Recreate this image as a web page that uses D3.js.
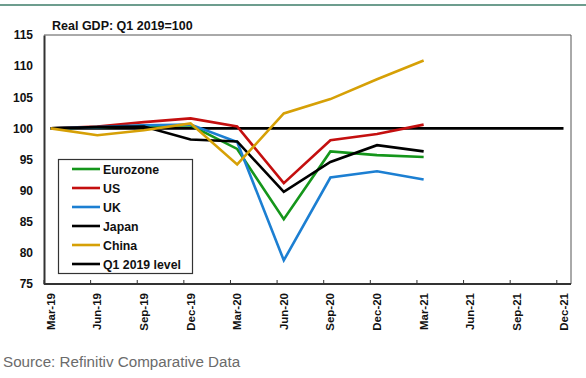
<!DOCTYPE html>
<html><head><meta charset="utf-8">
<script src="https://cdn.jsdelivr.net/npm/d3@7"></script>
<style>body{margin:0;background:#fff;}svg{display:block;font-family:Arial,"Liberation Sans",sans-serif;}</style>
</head><body><svg id="c" width="586" height="378"></svg>
<script>
const categories = ["Mar-19","Jun-19","Sep-19","Dec-19","Mar-20","Jun-20","Sep-20","Dec-20","Mar-21","Jun-21","Sep-21","Dec-21"];
const eurozone = [100, 100.2, 100.4, 100.5, 96.7, 85.4, 96.3, 95.7, 95.4];
const us       = [100, 100.3, 101.0, 101.6, 100.3, 91.2, 98.1, 99.1, 100.6];
const uk       = [100, 100.2, 100.5, 100.6, 97.8, 78.8, 92.1, 93.1, 91.8];
const japan    = [100, 100.2, 100.3, 98.2, 97.9, 89.8, 94.6, 97.3, 96.3];
const china    = [100, 98.9, 99.7, 100.8, 94.2, 102.4, 104.7, 107.9, 110.9];
const level    = [100,100,100,100,100,100,100,100,100,100,100,100];
const yTicks = [75,80,85,90,95,100,105,110,115];
const title = "Real GDP: Q1 2019=100";
const source = "Source: Refinitiv Comparative Data";

const series = [
  {name:"Eurozone", values:eurozone, color:"#15961b"},
  {name:"US", values:us, color:"#c40f0f"},
  {name:"UK", values:uk, color:"#1c7fd2"},
  {name:"Japan", values:japan, color:"#000000"},
  {name:"China", values:china, color:"#d6a006"},
  {name:"Q1 2019 level", values:level, color:"#000000"}
];

const svg = d3.select("#c");
const L = 44, R = 571, T = 35, B = 284;
const x = d3.scaleLinear().domain([0, 11]).range([50.7, 563.5]);
const y = d3.scaleLinear().domain([75, 115]).range([B, T]);
const tickOff = -6.7;

// top rule
svg.append("line").attr("x1",0).attr("x2",586).attr("y1",5).attr("y2",5)
  .attr("stroke","#3d7d68").attr("stroke-width",1.5);

// plot frame (top/right)
svg.append("path").attr("d",`M${L},${T}H${R}V${B}`).attr("fill","none").attr("stroke","#555").attr("stroke-width",1);

// title
svg.append("text").attr("x",52).attr("y",30).attr("font-size",12.5).attr("font-weight","bold").attr("fill","#111").text(title);

// y axis
const yAxis = svg.append("g").attr("transform",`translate(${L},0)`)
  .call(d3.axisLeft(y).tickValues(yTicks).tickSize(0).tickPadding(11));
yAxis.select(".domain").attr("stroke","#333").attr("stroke-width",2);
yAxis.selectAll("text").attr("font-size",12).attr("font-weight","bold").attr("fill","#111").attr("font-family","Arial, 'Liberation Sans', sans-serif");

// x axis
const xg = svg.append("g");
xg.append("line").attr("x1",L).attr("x2",R).attr("y1",B).attr("y2",B).attr("stroke","#333").attr("stroke-width",2);
xg.selectAll("line.tk").data(categories).join("line").attr("class","tk")
  .attr("x1",(d,i)=>x(i)+tickOff).attr("x2",(d,i)=>x(i)+tickOff)
  .attr("y1",B).attr("y2",B-4).attr("stroke","#333").attr("stroke-width",1);
xg.selectAll("text").data(categories).join("text")
  .attr("transform",(d,i)=>`translate(${x(i)+4},293) rotate(-90)`)
  .attr("text-anchor","end").attr("font-size",11.5).attr("font-weight","bold").attr("fill","#111")
  .text(d=>d);

// lines
const line = d3.line().x((d,i)=>x(i)).y(d=>y(d));
const order = [5,0,1,2,3,4];
order.forEach(k=>{
  const s = series[k];
  svg.append("path").datum(s.values).attr("d",line).attr("fill","none")
    .attr("stroke",s.color).attr("stroke-width",2.6).attr("stroke-linejoin","miter");
});

// legend
const lg = svg.append("g");
lg.append("rect").attr("x",58.5).attr("y",159.5).attr("width",134).attr("height",114)
  .attr("fill","#fff").attr("stroke","#333").attr("stroke-width",1.2);
series.forEach((s,i)=>{
  const yy = 169 + i*19;
  lg.append("line").attr("x1",72).attr("x2",100).attr("y1",yy).attr("y2",yy).attr("stroke",s.color).attr("stroke-width",2.6);
  lg.append("text").attr("x",103).attr("y",yy+4.5).attr("font-size",12.3).attr("font-weight","bold").attr("fill","#111").text(s.name);
});

// source
svg.append("text").attr("x",3).attr("y",367).attr("font-size",15.2).attr("fill","#6b6b6b").text(source);
</script></body></html>
